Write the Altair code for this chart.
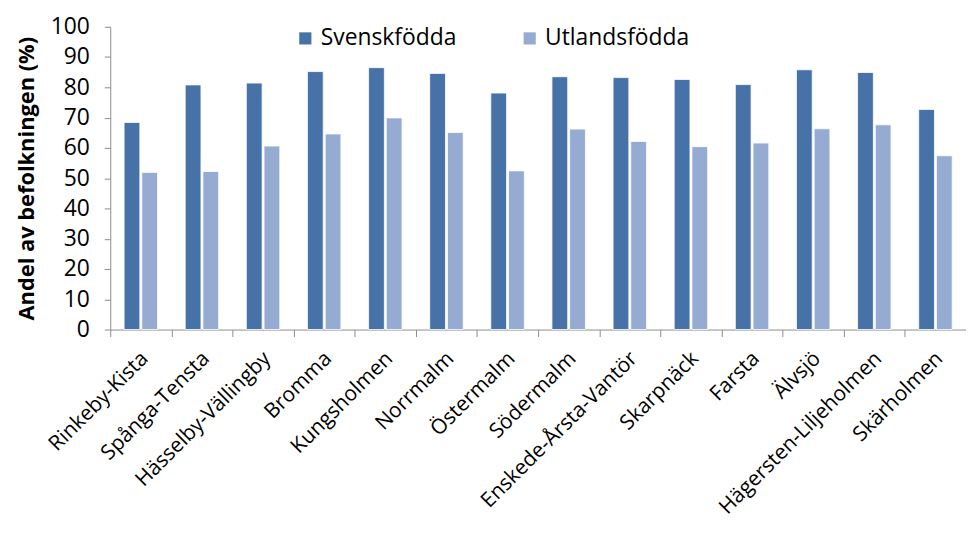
import altair as alt
import pandas as pd

districts = ["Rinkeby-Kista", "Spånga-Tensta", "Hässelby-Vällingby", "Bromma",
             "Kungsholmen", "Norrmalm", "Östermalm", "Södermalm",
             "Enskede-Årsta-Vantör", "Skarpnäck", "Farsta", "Älvsjö",
             "Hägersten-Liljeholmen", "Skärholmen"]
svenskfodda = [68.4, 80.8, 81.4, 85.2, 86.5, 84.6, 78.1, 83.5, 83.2, 82.6, 80.9, 85.8, 84.9, 72.7]
utlandsfodda = [51.9, 52.2, 60.6, 64.6, 69.9, 65.1, 52.4, 66.2, 62.1, 60.4, 61.6, 66.3, 67.6, 57.4]
series = ["Svenskfödda", "Utlandsfödda"]
colors = ["#4672A8", "#95ABD2"]

rows = []
for d, s, u in zip(districts, svenskfodda, utlandsfodda):
    rows.append({"Stadsdel": d, "Grupp": series[0], "Andel": s})
    rows.append({"Stadsdel": d, "Grupp": series[1], "Andel": u})
df = pd.DataFrame(rows)

FONT = "Open Sans"

chart = alt.Chart(df).mark_bar(stroke="white", strokeWidth=0.8).encode(
    x=alt.X("Stadsdel:N", sort=districts,
            scale=alt.Scale(paddingInner=0, paddingOuter=0),
            axis=alt.Axis(title=None, labelAngle=-45, labelAlign="right",
                          labelBaseline="top", labelPadding=11, labelOffset=-4,
                          labelFontSize=21,
                          labelFont=FONT, labelColor="#000000",
                          tickBand="extent", tickSize=7, tickColor="#8c8c8c",
                          domainColor="#8c8c8c", labelOverlap=False,
                          labelLimit=400)),
    xOffset=alt.XOffset("Grupp:N", sort=series,
                        scale=alt.Scale(paddingInner=0.11, paddingOuter=0.78)),
    y=alt.Y("Andel:Q",
            scale=alt.Scale(domain=[0, 100], nice=False),
            axis=alt.Axis(title="Andel av befolkningen (%)", values=list(range(0, 101, 10)),
                          titleFontSize=22, titleFont=FONT, titleFontWeight="bold",
                          titleColor="#000000", titlePadding=12,
                          labelFontSize=23, labelFont=FONT, labelColor="#000000",
                          labelPadding=15,
                          tickSize=6, tickColor="#8c8c8c", domainColor="#8c8c8c",
                          grid=False)),
    color=alt.Color("Grupp:N", sort=series,
                    scale=alt.Scale(domain=series, range=colors),
                    legend=alt.Legend(title=None, orient="none", direction="horizontal",
                                      legendX=185, legendY=0, symbolType="square",
                                      symbolSize=150, symbolStrokeWidth=0,
                                      labelFontSize=23, labelFont=FONT,
                                      labelColor="#000000", columnPadding=62,
                                      labelOffset=4)),
).properties(
    width=862, height=305,
    autosize=alt.AutoSizeParams(type="none"),
    padding={"left": 103, "top": 17, "right": 0, "bottom": 196},
).configure_view(stroke=None)

chart.save("out.html", embed_options={"renderer": "svg", "actions": False})
